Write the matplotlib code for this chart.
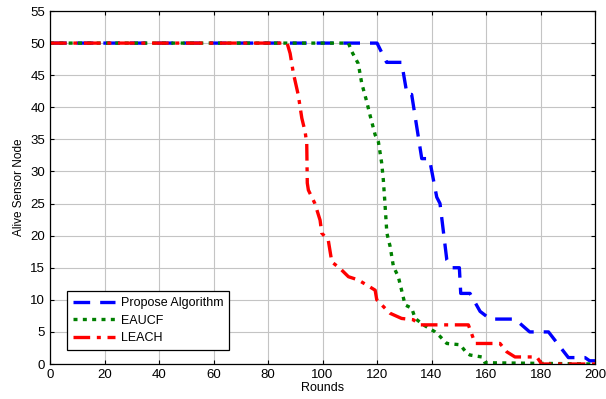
import numpy as np
import matplotlib.pyplot as plt

plt.rcParams['font.family'] = ['Liberation Sans', 'DejaVu Sans']

# data
propose_x = [0, 120, 123.5, 129, 131, 132.7, 136.4, 139.2, 141.9, 143.1, 145.6, 147.4,
             150.2, 150.7, 154.1, 157.8, 161.5, 170.6, 176, 182.9, 190.2, 196.3, 198, 200]
propose_y = [50, 50, 47, 47, 42, 42, 32, 32, 26, 25, 16.2, 15,
             15, 11, 11, 8.2, 7, 7, 5, 5, 1, 1, 0.5, 0.5]

eaucf_x = [0, 109.5, 110.7, 113.1, 114.4, 116.2, 117.4, 119.3, 120.5, 121.7, 122.3, 122.9,
           123.6, 124.8, 126, 127.8, 129, 130.3, 132.7, 134, 137, 141.3, 143.1, 145.6,
           150.5, 152.9, 154.1, 158.4, 159.6, 200]
eaucf_y = [50, 50, 48.7, 46.8, 43.7, 40.9, 38.8, 35.7, 34.6, 31.3, 28.7, 25,
           20.4, 18.3, 15.2, 13.6, 11.5, 9.2, 8.7, 7.1, 6.1, 5, 4.3, 3.2,
           3, 1.7, 1.4, 1.1, 0.2, 0]

leach_x = [0, 87, 88.1, 89.3, 91.1, 92.4, 93.6, 94.2, 94.4, 94.8, 97.2, 99.1, 99.7,
           102.1, 103.4, 106.4, 109.5, 113.1, 117.4, 119.3, 119.9, 122.9, 124.8, 129,
           133.3, 135.8, 153.5, 156, 165.1, 167.6, 170.6, 178.6, 180.4, 200]
leach_y = [50, 50, 48.4, 45.3, 41.9, 38.3, 36.2, 34.4, 28.2, 27.1, 25, 22.4, 20.4,
           19.3, 15.9, 14.9, 13.6, 13.1, 12, 11.5, 10, 8.7, 7.9, 7.1,
           6.9, 6.1, 6.1, 3.2, 3.2, 1.9, 1.1, 1.1, 0, 0]

fig = plt.figure(figsize=(6.06, 3.99), dpi=100)
ax = fig.add_axes([0.0825, 0.0877, 0.8995, 0.8847])

ax.plot(propose_x, propose_y, color='#0000ff', lw=2.4, dashes=(5, 3), label='Propose Algorithm')
ax.plot(eaucf_x, eaucf_y, color='#008000', lw=2.4, dashes=(1.2, 1.6), label='EAUCF')
ax.plot(leach_x, leach_y, color='#ff0000', lw=2.4, dashes=(5, 2, 1.2, 2), label='LEACH')

ax.set_xlim(0, 200)
ax.set_ylim(0, 55)
ax.set_xticks(np.arange(0, 201, 20))
ax.set_yticks(np.arange(0, 56, 5))
ax.grid(True, color='#c4c4c4', lw=0.8)
ax.tick_params(direction='in', top=True, right=True, labelsize=9.5, length=3)
for s in ax.spines.values():
    s.set_linewidth(0.9)

ax.set_xlabel('Rounds', fontsize=9, labelpad=1)
ax.set_ylabel('Alive Sensor Node', fontsize=8.5, labelpad=4)

leg = ax.legend(loc='lower left', bbox_to_anchor=(0.031, 0.04), fontsize=9,
                fancybox=False, edgecolor='black', framealpha=1,
                handlelength=3.4, labelspacing=0.45, borderpad=0.45, handletextpad=0.5,
                borderaxespad=0.0)
leg.get_frame().set_linewidth(0.9)

fig.savefig('out.png', dpi=100)
